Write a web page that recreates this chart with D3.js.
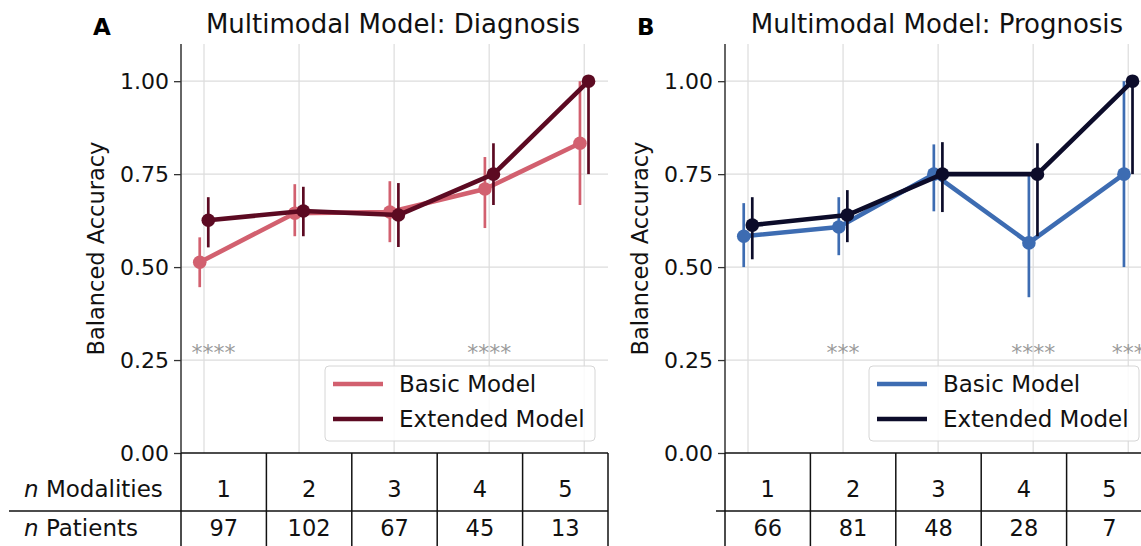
<!DOCTYPE html>
<html>
<head>
<meta charset="utf-8">
<script src="https://cdn.jsdelivr.net/npm/d3@7"></script>
<style>
  body { margin: 0; background: #fff; }
  text { font-family: "DejaVu Sans", sans-serif; }
</style>
</head>
<body>
<svg id="chart" width="1141" height="546"></svg>
<script>
// ---- data ----
const modalities = ["1", "2", "3", "4", "5"];
const yTicks = [0, 0.25, 0.5, 0.75, 1.0];

const diagPatients = [97, 102, 67, 45, 13];
const diagBasic    = [0.513, 0.645, 0.648, 0.710, 0.833];
const diagBasicLo  = [0.446, 0.583, 0.567, 0.605, 0.667];
const diagBasicHi  = [0.580, 0.723, 0.731, 0.796, 1.000];
const diagExt      = [0.626, 0.651, 0.640, 0.750, 1.000];
const diagExtLo    = [0.553, 0.583, 0.554, 0.667, 0.750];
const diagExtHi    = [0.688, 0.716, 0.726, 0.833, 1.000];
const diagStars    = ["****", "****"];
const diagStarsX   = [0.1, 3];

const progPatients = [66, 81, 48, 28, 7];
const progBasic    = [0.583, 0.608, 0.750, 0.565, 0.750];
const progBasicLo  = [0.500, 0.532, 0.650, 0.419, 0.500];
const progBasicHi  = [0.672, 0.688, 0.830, 0.750, 1.000];
const progExt      = [0.613, 0.640, 0.750, 0.750, 1.000];
const progExtLo    = [0.521, 0.567, 0.648, 0.583, 0.750];
const progExtHi    = [0.688, 0.707, 0.836, 0.833, 1.000];
const progStars    = ["***", "****", "***"];
const progStarsX   = [1, 3, 4];

const svg = d3.select("#chart");
const axW = 427, yTop = 44, yBot = 453, rowH = 58;
const dodge = 0.045;

const y = d3.scaleLinear().domain([0, 1.1]).range([yBot, yTop]);

function drawPanel(cfg) {
  let left = cfg.left;
  let x = d3.scaleLinear().domain([-0.242, 4.25]).range([left, left + axW]);
  let g = svg.append("g");

  // grid
  g.selectAll(".vg").data(modalities).enter().append("line")
    .attr("x1", (d, i) => x(i)).attr("x2", (d, i) => x(i))
    .attr("y1", yTop).attr("y2", yBot)
    .attr("stroke", "#dcdcdc").attr("stroke-width", 1.2);
  g.selectAll(".hg").data(yTicks.slice(1)).enter().append("line")
    .attr("x1", left).attr("x2", left + axW)
    .attr("y1", d => y(d)).attr("y2", d => y(d))
    .attr("stroke", "#dcdcdc").attr("stroke-width", 1.2);

  // y axis
  let yAxis = d3.axisLeft(y).tickValues(yTicks).tickFormat(d3.format(".2f")).tickSize(7).tickPadding(5);
  let ya = g.append("g").attr("transform", `translate(${left},0)`).call(yAxis);
  ya.select(".domain").attr("stroke", "#333").attr("stroke-width", 1.5).attr("d", `M0,${yTop}V${yBot}`);
  ya.selectAll(".tick line").attr("stroke", "#333").attr("stroke-width", 1.3);
  ya.selectAll(".tick text").attr("font-size", 22).attr("fill", "#111")
    .attr("font-family", "DejaVu Sans");

  g.append("text")
    .attr("transform", `translate(${left - 84},${(yTop + yBot) / 2}) rotate(-90)`)
    .attr("text-anchor", "middle").attr("dominant-baseline", "middle")
    .attr("font-size", 22.5).attr("fill", "#111").text("Balanced Accuracy");

  // title + panel letter
  g.append("text").attr("x", left + 212).attr("y", 33)
    .attr("text-anchor", "middle").attr("font-size", 26).attr("fill", "#111")
    .text(cfg.title);
  g.append("text").attr("x", left - 88).attr("y", 35)
    .attr("font-size", 23).attr("font-weight", "bold").attr("fill", "#000")
    .text(cfg.letter);

  // significance stars
  g.selectAll(".star").data(cfg.stars).enter().append("text")
    .attr("x", (d, i) => x(cfg.starsX[i])).attr("y", y(0.25))
    .attr("text-anchor", "middle").attr("font-size", 22).attr("fill", "#9a9a9a")
    .text(d => d);

  // series
  cfg.series.forEach((s, si) => {
    let off = si === 0 ? -dodge : dodge;
    let pts = s.mean.map((v, i) => ({ x: x(i + off), y: y(v), lo: y(s.lo[i]), hi: y(s.hi[i]) }));
    g.selectAll(null).data(pts).enter().append("line")
      .attr("x1", d => d.x).attr("x2", d => d.x)
      .attr("y1", d => d.lo).attr("y2", d => d.hi)
      .attr("stroke", s.color).attr("stroke-width", 2.7);
    g.append("path").datum(pts)
      .attr("d", d3.line().x(d => d.x).y(d => d.y))
      .attr("fill", "none").attr("stroke", s.color).attr("stroke-width", 4.6)
      .attr("stroke-linejoin", "round");
    g.selectAll(null).data(pts).enter().append("circle")
      .attr("cx", d => d.x).attr("cy", d => d.y).attr("r", 6.8)
      .attr("fill", s.color);
  });

  // legend
  let lg = g.append("g");
  lg.append("rect").attr("x", left + 144).attr("y", 366).attr("width", 270).attr("height", 75)
    .attr("rx", 4).attr("fill", "#fff").attr("fill-opacity", 0.85)
    .attr("stroke", "#d6d6d6").attr("stroke-width", 1);
  cfg.series.forEach((s, si) => {
    let ly = 384 + si * 35;
    lg.append("line").attr("x1", left + 152).attr("x2", left + 202)
      .attr("y1", ly).attr("y2", ly).attr("stroke", s.color).attr("stroke-width", 4.6);
    lg.append("text").attr("x", left + 218).attr("y", ly)
      .attr("dominant-baseline", "central").attr("font-size", 23).attr("fill", "#111")
      .text(s.name);
  });

  // table under the axis
  let tg = g.append("g");
  let colW = axW / modalities.length;
  tg.append("line").attr("x1", left).attr("x2", left + axW)
    .attr("y1", yBot).attr("y2", yBot).attr("stroke", "#111").attr("stroke-width", 1.5);
  tg.append("line").attr("x1", cfg.sepStart).attr("x2", left + axW)
    .attr("y1", yBot + rowH).attr("y2", yBot + rowH).attr("stroke", "#111").attr("stroke-width", 1.5);
  tg.selectAll(".vl").data(d3.range(modalities.length + 1)).enter().append("line")
    .attr("x1", d => left + d * colW).attr("x2", d => left + d * colW)
    .attr("y1", yBot).attr("y2", yBot + 2 * rowH)
    .attr("stroke", "#111").attr("stroke-width", 1.5);
  tg.selectAll(".m").data(modalities).enter().append("text")
    .attr("x", (d, i) => left + (i + 0.5) * colW).attr("y", yBot + 44)
    .attr("text-anchor", "middle").attr("font-size", 22.5).attr("fill", "#111").text(d => d);
  tg.selectAll(".p").data(cfg.patients).enter().append("text")
    .attr("x", (d, i) => left + (i + 0.5) * colW).attr("y", yBot + rowH + 25)
    .attr("text-anchor", "middle").attr("font-size", 22.5).attr("fill", "#111").text(d => d);

  if (cfg.rowLabels) {
    let t1 = tg.append("text").attr("x", 24).attr("y", yBot + 44)
      .attr("font-size", 23).attr("fill", "#111");
    t1.append("tspan").attr("font-style", "italic").text("n");
    t1.append("tspan").text(" Modalities");
    let t2 = tg.append("text").attr("x", 24).attr("y", yBot + rowH + 25)
      .attr("font-size", 23).attr("fill", "#111");
    t2.append("tspan").attr("font-style", "italic").text("n");
    t2.append("tspan").text(" Patients");
  }
}

drawPanel({
  left: 181, letter: "A", title: "Multimodal Model: Diagnosis",
  patients: diagPatients, stars: diagStars, starsX: diagStarsX,
  sepStart: 9, rowLabels: true,
  series: [
    { name: "Basic Model", color: "#d2606f", mean: diagBasic, lo: diagBasicLo, hi: diagBasicHi },
    { name: "Extended Model", color: "#5c0a22", mean: diagExt, lo: diagExtLo, hi: diagExtHi }
  ]
});

drawPanel({
  left: 725, letter: "B", title: "Multimodal Model: Prognosis",
  patients: progPatients, stars: progStars, starsX: progStarsX,
  sepStart: 716, rowLabels: false,
  series: [
    { name: "Basic Model", color: "#3d6cb2", mean: progBasic, lo: progBasicLo, hi: progBasicHi },
    { name: "Extended Model", color: "#0c0c2a", mean: progExt, lo: progExtLo, hi: progExtHi }
  ]
});
</script>
</body>
</html>
